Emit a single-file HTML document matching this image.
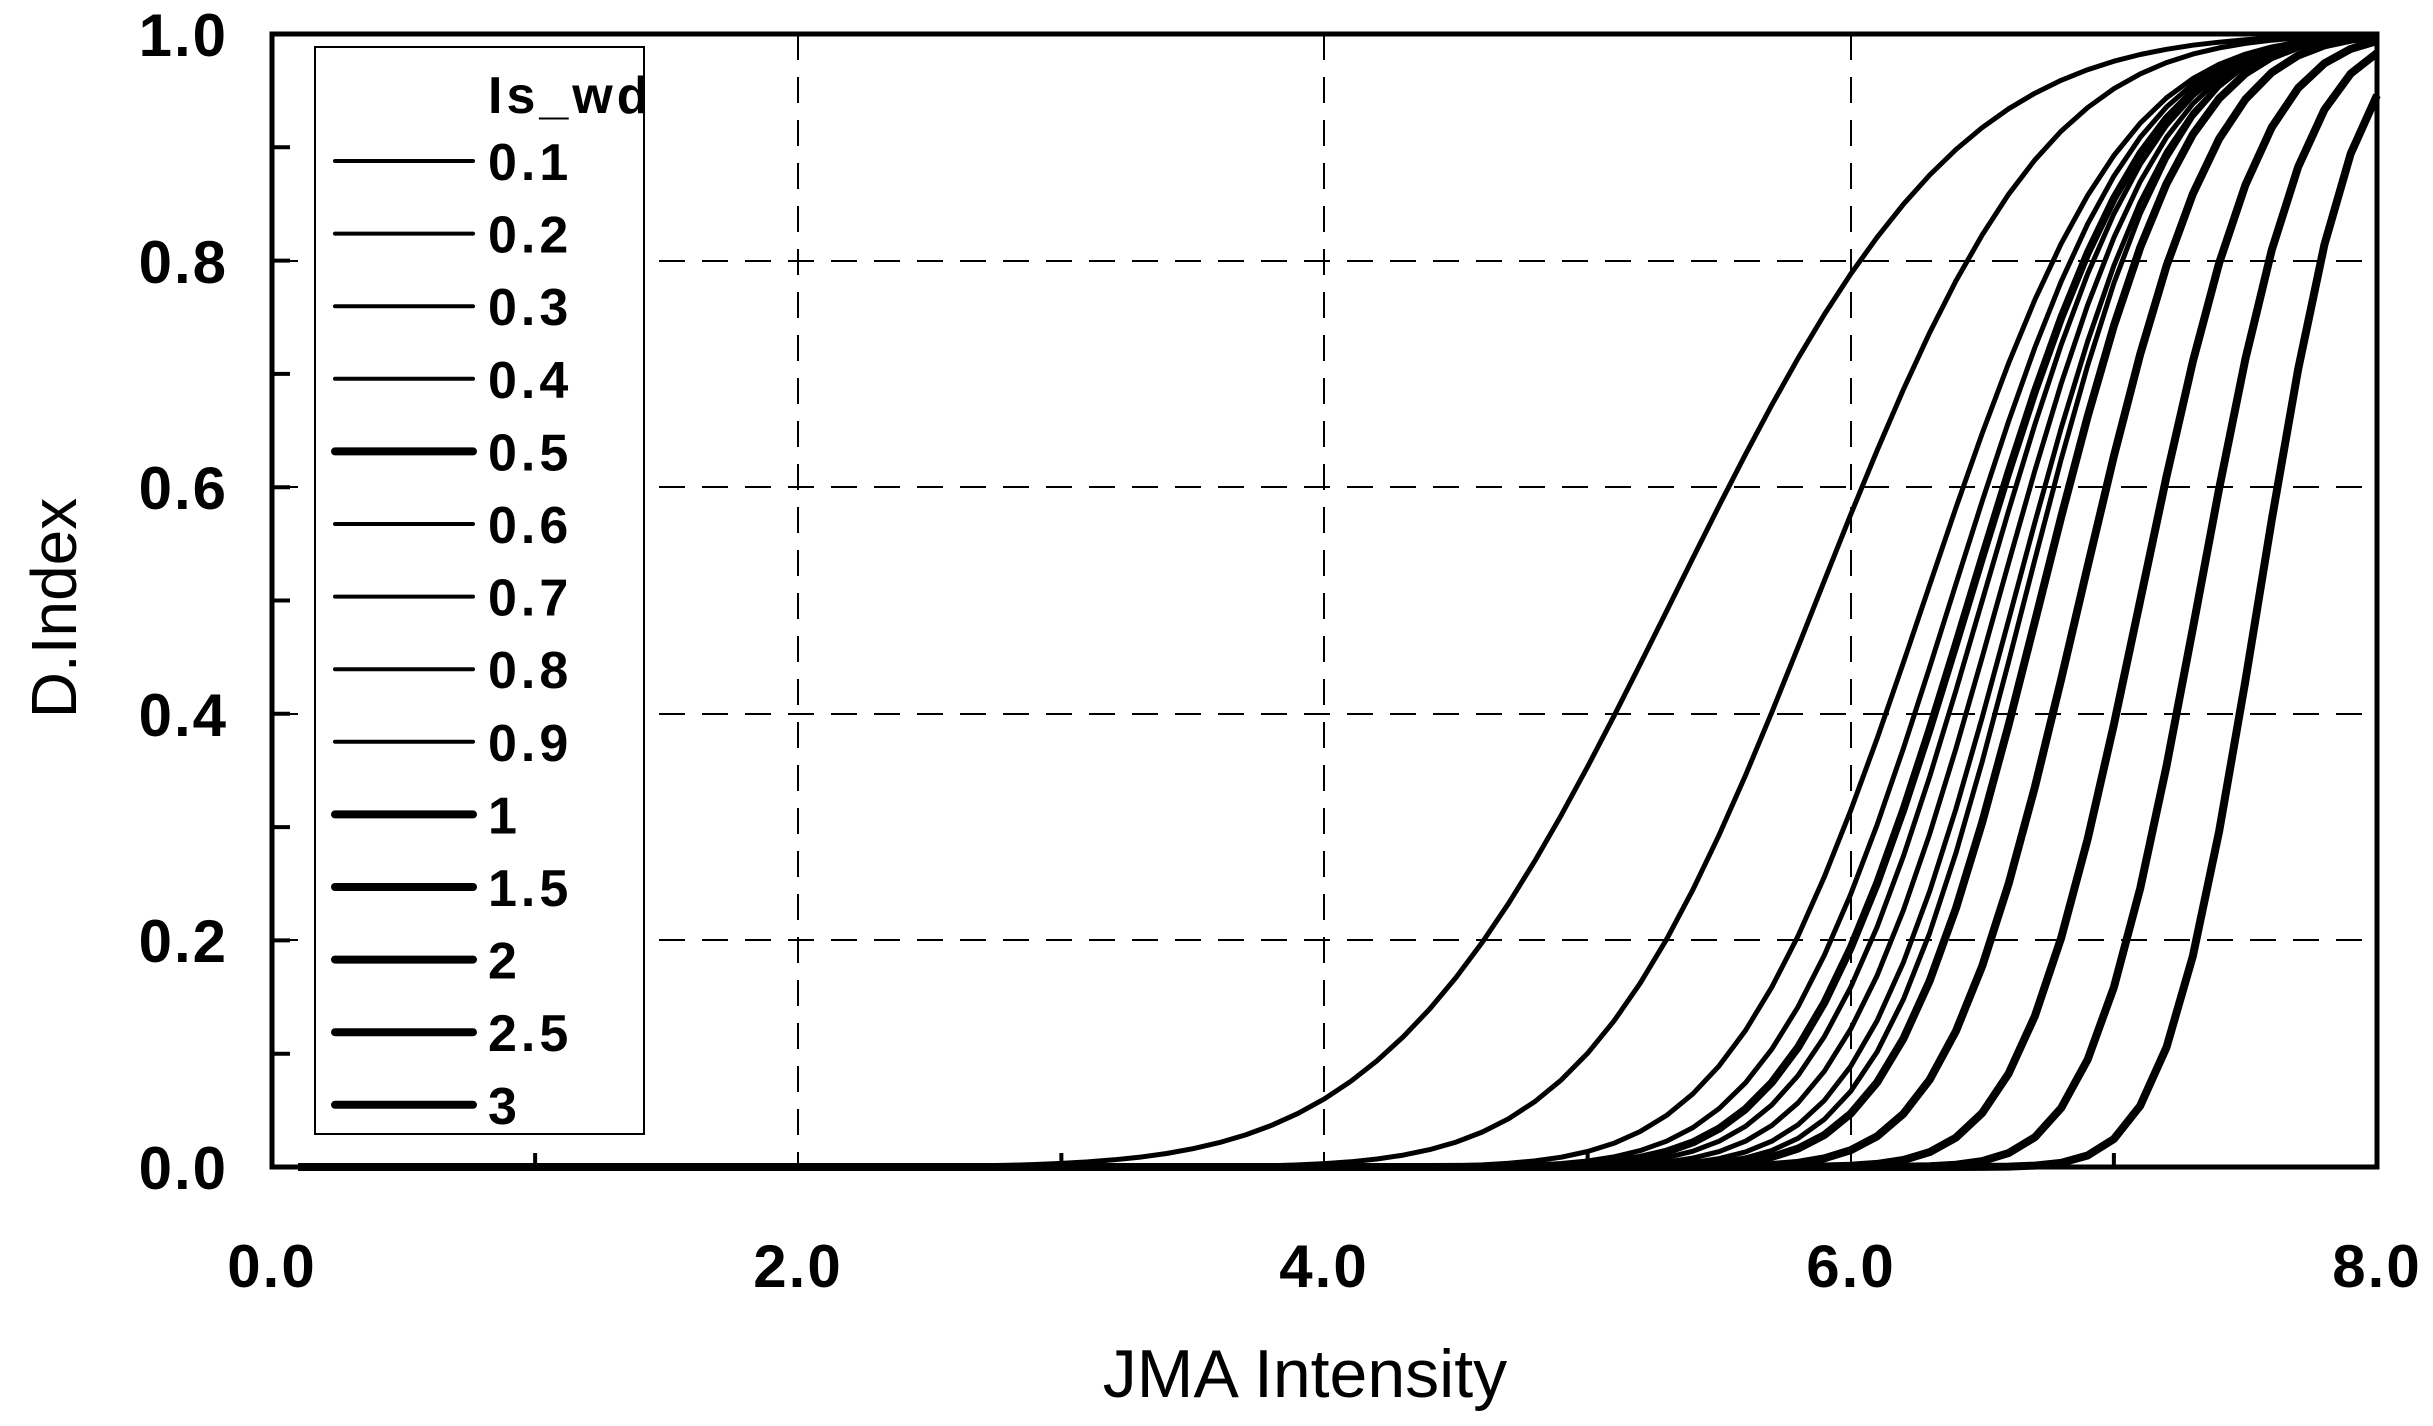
<!DOCTYPE html>
<html><head><meta charset="utf-8">
<style>
html,body{margin:0;padding:0;background:#fff;}
svg{display:block;}
text{font-family:"Liberation Sans",sans-serif;fill:#000;}
.tk{font-weight:bold;font-size:60px;letter-spacing:2px;}
.lg{font-weight:bold;font-size:52px;letter-spacing:4px;}
</style></head>
<body>
<svg id="s" width="2433" height="1426" viewBox="0 0 2433 1426" xmlns="http://www.w3.org/2000/svg">
<rect width="2433" height="1426" fill="#fff"/>
<g id="grid" stroke="#000" stroke-width="2" stroke-dasharray="26,17" fill="none">
<line x1="798" y1="34" x2="798" y2="1167"/>
<line x1="1324" y1="34" x2="1324" y2="1167"/>
<line x1="1851" y1="34" x2="1851" y2="1167"/>
<line x1="272" y1="940" x2="2377" y2="940"/>
<line x1="272" y1="714" x2="2377" y2="714"/>
<line x1="272" y1="487" x2="2377" y2="487"/>
<line x1="272" y1="261" x2="2377" y2="261"/>
</g>
<g id="curves" fill="none" stroke="#000" stroke-linejoin="round"></g>
<g stroke="#000" stroke-width="5" fill="none">
<rect x="272" y="34" width="2105" height="1133"/>
</g>
<g id="ticks" stroke="#000" stroke-width="4"></g>
<rect x="315" y="47" width="329" height="1087" fill="#fff" stroke="#000" stroke-width="2"/>
<g id="legend"></g>
<g class="tk" text-anchor="end">
<text x="228" y="56">1.0</text>
<text x="228" y="283">0.8</text>
<text x="228" y="509">0.6</text>
<text x="228" y="736">0.4</text>
<text x="228" y="962">0.2</text>
<text x="228" y="1189">0.0</text>
</g>
<g class="tk" text-anchor="middle">
<text x="272" y="1287">0.0</text>
<text x="798" y="1287">2.0</text>
<text x="1324" y="1287">4.0</text>
<text x="1851" y="1287">6.0</text>
<text x="2377" y="1287">8.0</text>
</g>
<text x="1305" y="1397" text-anchor="middle" font-size="68">JMA Intensity</text>
<text transform="translate(76,608) rotate(-90)" text-anchor="middle" font-size="64">D.Index</text>
</svg>
<script>
var NS="http://www.w3.org/2000/svg";
function el(t,a,p){var e=document.createElementNS(NS,t);for(var k in a)e.setAttribute(k,a[k]);p.appendChild(e);return e;}
function erf(x){var s=x<0?-1:1;x=Math.abs(x);var t=1/(1+0.3275911*x);var y=1-(((((1.061405429*t-1.453152027)*t)+1.421413741)*t-0.284496736)*t+0.254829592)*t*Math.exp(-x*x);return s*y;}
function cdf(x,m,s){return 0.5*(1+erf((x-m)/(s*Math.SQRT2)));}
var L=272,R=2377,T=34,B=1167,ppu=(R-L)/8;
function X(v){return L+v*ppu;} function Y(v){return B-v*(B-T);}
var ser=[["0.1",5.32,0.85,0],["0.2",5.87,0.68,0],["0.3",6.28,0.58,0],["0.4",6.38,0.54,0],["0.5",6.45,0.52,1],["0.6",6.5,0.5,0],["0.7",6.56,0.48,0],["0.8",6.62,0.46,0],["0.9",6.66,0.44,0],["1",6.72,0.43,1],["1.5",6.87,0.4,1],["2",7.1,0.36,1],["2.5",7.32,0.32,1],["3",7.55,0.28,1]];
var cg=document.getElementById("curves"),lg=document.getElementById("legend");
ser.forEach(function(s,i){
 var d="";for(var x=0.1;x<=8.0001;x+=0.1){var y=cdf(x,s[1],s[2]);d+=(d?"L":"M")+X(x).toFixed(1)+","+Y(y).toFixed(1);}
 el("path",{d:d,"stroke-width":s[3]?8:5},cg);
 var yy=161+i*72.6;
 el("line",{x1:335,y1:yy,x2:473,y2:yy,stroke:"#000","stroke-width":s[3]?8:4,"stroke-linecap":"round"},lg);
 var t=el("text",{x:488,y:yy+19,"class":"lg"},lg);t.textContent=s[0];
});
var tt=el("text",{x:488,y:113,"class":"lg"},lg);tt.textContent="Is_wd";
var tk=document.getElementById("ticks");
for(var v=0.1;v<1;v+=0.1){el("line",{x1:L,y1:Y(v),x2:L+18,y2:Y(v)},tk);}
[1,3,5,7].forEach(function(v){el("line",{x1:X(v),y1:B,x2:X(v),y2:B-14},tk);});
</script>
</body></html>
